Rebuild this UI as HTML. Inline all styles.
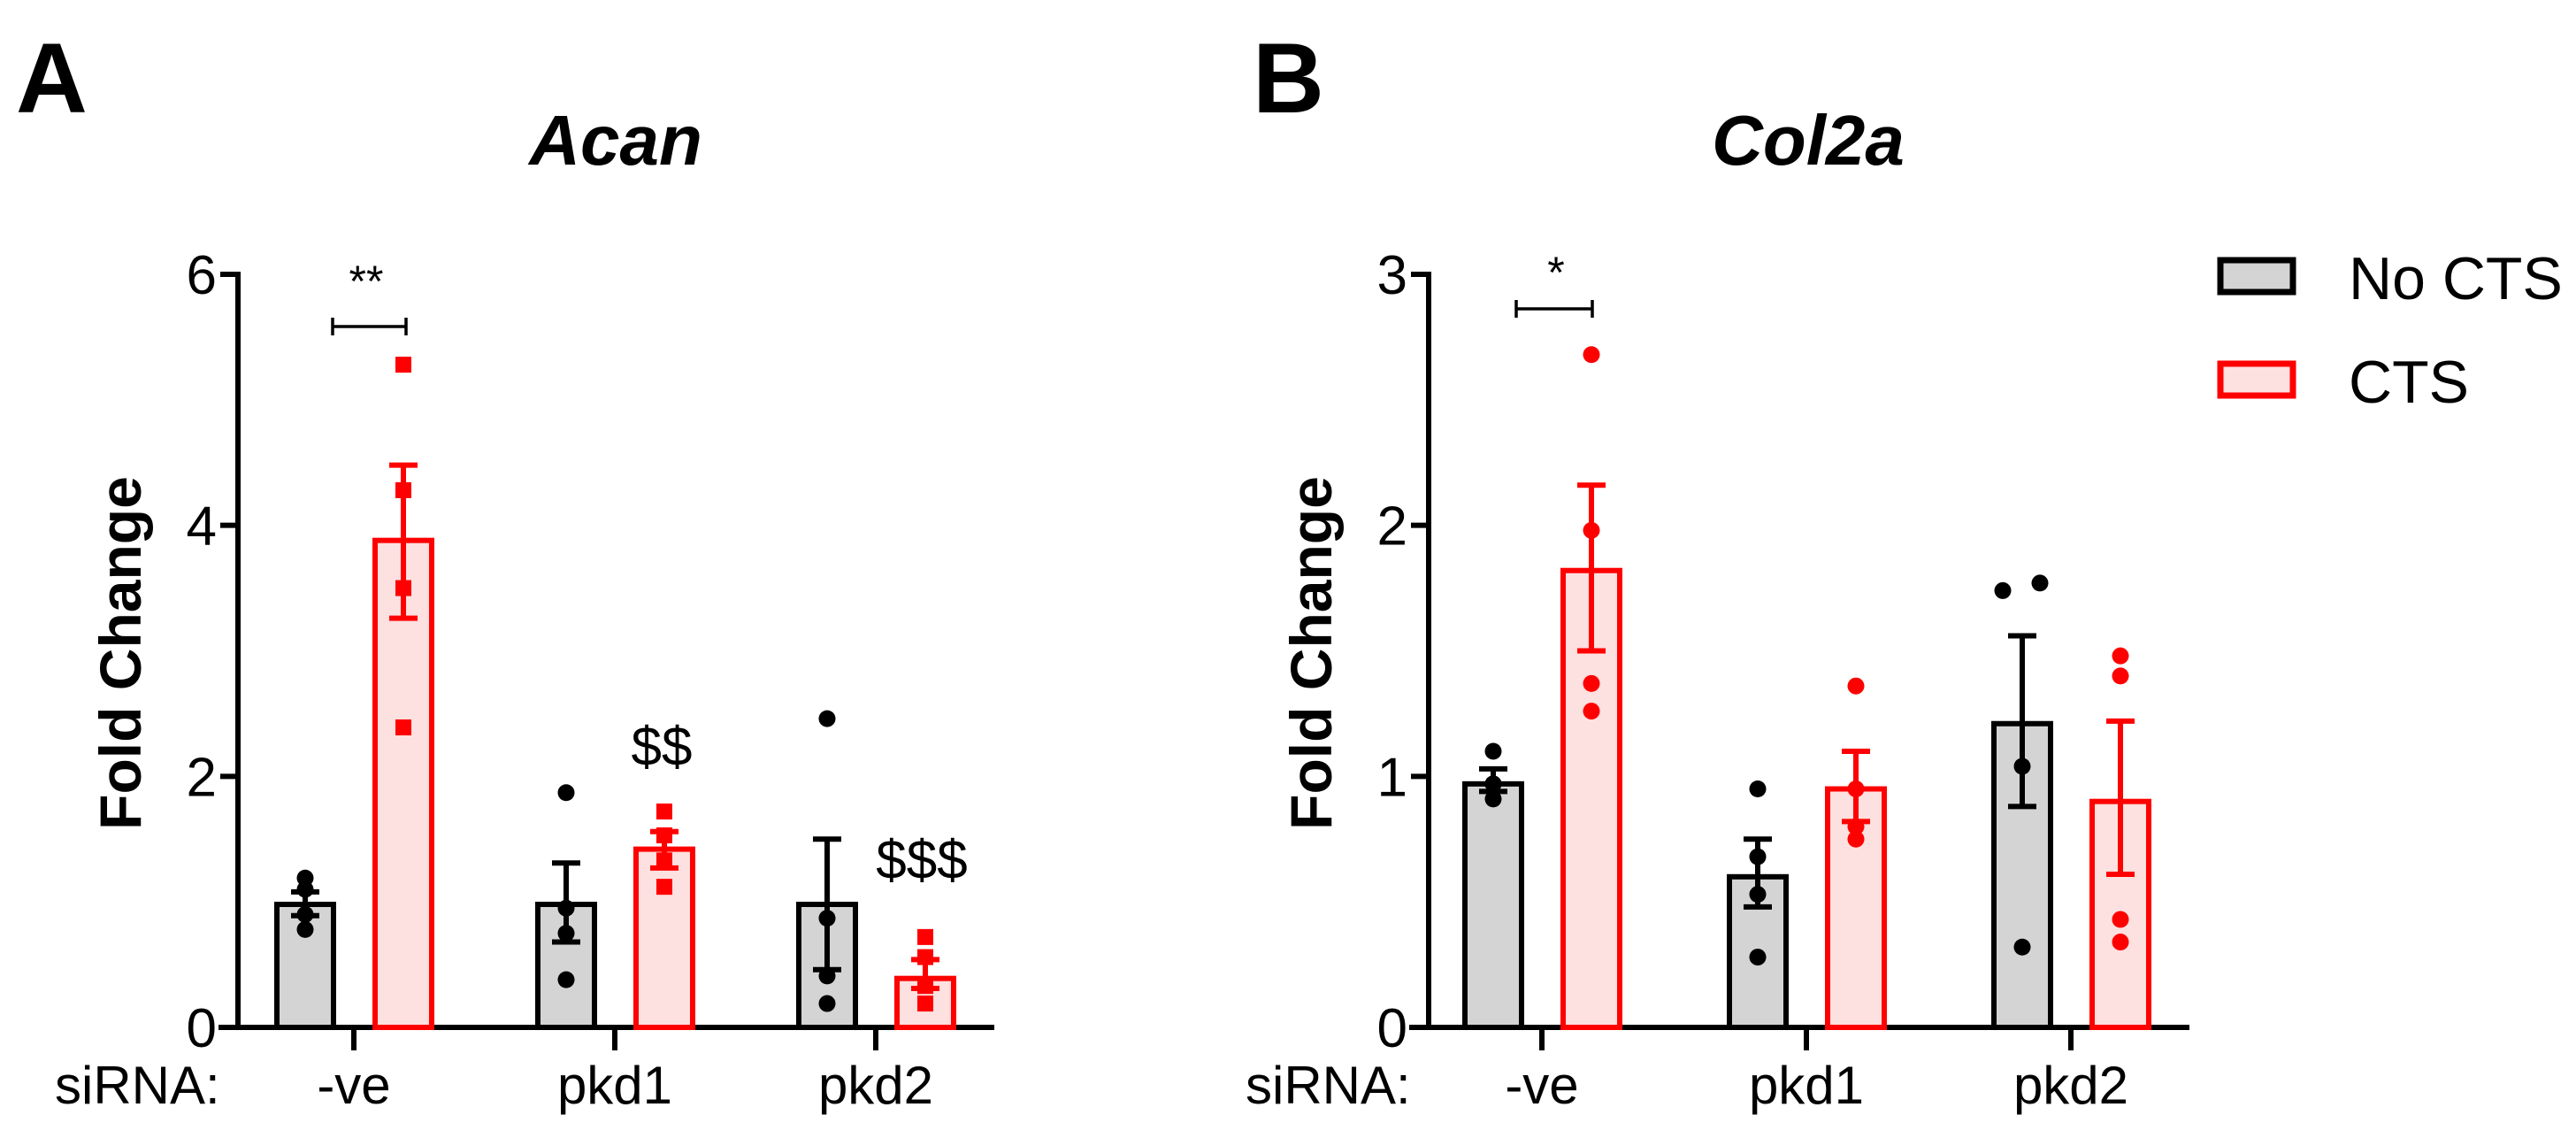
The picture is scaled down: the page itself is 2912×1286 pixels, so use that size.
<!DOCTYPE html>
<html><head><meta charset="utf-8"><style>
html,body{margin:0;padding:0;background:#fff;}
svg{display:block;font-family:"Liberation Sans",Arial,sans-serif;}
</style></head><body>
<svg id="fig" width="2912" height="1286" viewBox="0 0 2912 1286" xmlns="http://www.w3.org/2000/svg"></svg>
<script>
// ---------- data ----------
const categories = ["-ve", "pkd1", "pkd2"];
const seriesNames = ["No CTS", "CTS"];
// Panel A (Acan)
const acanNoCTS = [0.98, 0.98, 0.98];
const acanCTS = [3.88, 1.42, 0.39];
const acanNoCTSErrLo = [0.89, 0.68, 0.46];
const acanNoCTSErrHi = [1.08, 1.31, 1.50];
const acanCTSErrLo = [3.26, 1.27, 0.31];
const acanCTSErrHi = [4.48, 1.56, 0.54];
const acanNoCTSPts = [[1.19, 1.10, 0.90, 0.78], [1.87, 0.95, 0.75, 0.38], [2.46, 0.87, 0.41, 0.19]];
const acanCTSPts = [[5.28, 4.28, 3.50, 2.39], [1.72, 1.53, 1.33, 1.12], [0.72, 0.56, 0.33, 0.19]];
const acanTicks = [0, 2, 4, 6];
// Panel B (Col2a)
const colNoCTS = [0.97, 0.60, 1.21];
const colCTS = [1.82, 0.95, 0.90];
const colNoCTSErrLo = [0.94, 0.48, 0.88];
const colNoCTSErrHi = [1.03, 0.75, 1.56];
const colCTSErrLo = [1.50, 0.82, 0.61];
const colCTSErrHi = [2.16, 1.10, 1.22];
const colNoCTSPts = [[1.10, 0.97, 0.97, 0.91], [0.95, 0.68, 0.53, 0.28], [1.74, 1.77, 1.04, 0.32]];
const colCTSPts = [[2.68, 1.98, 1.37, 1.26], [1.36, 0.95, 0.75, 0.80], [1.48, 1.40, 0.43, 0.34]];
const colTicks = [0, 1, 2, 3];

// ---------- rendering ----------
const NS = "http://www.w3.org/2000/svg";
const svg = document.getElementById("fig");
function mk(tag, attrs, parent, text) {
  const e = document.createElementNS(NS, tag);
  for (const k in attrs) e.setAttribute(k, attrs[k]);
  if (text !== undefined) e.textContent = text;
  (parent || svg).appendChild(e);
  return e;
}
const RED = "#ff0000", REDFILL = "#fde0e0", GRAYFILL = "#d4d4d4";
const jitterA = [[0, 0, 0, 0], [0, 0, 0, 0], [0, 0, 0, 0]];
const jitterB = [[-18, 0, 18, 0], [0, 0, 0, 0], [-22, 20, 0, 0], [0, 0, 0, 0]];

function panel(opt) {
  const g = mk("g", {});
  
  
  const y0 = 1161, yTop = 310;
  const y = v => y0 - (v / opt.ymax) * (y0 - yTop);
  const x = i => opt.tickX0 + i * opt.tickStep;
  const ax = mk("line", {x1: opt.axisX, y1: yTop - 3, x2: opt.axisX, y2: y0 + 3, stroke: "#000", "stroke-width": 6}, g);
  
  
  const xa = mk("line", {x1: opt.axisX - 22, y1: y0, x2: opt.axisEnd, y2: y0, stroke: "#000", "stroke-width": 6}, g);
  
  
  opt.ticks.forEach(t => {
    const ty = y(t);
    const tl = mk("line", {x1: opt.axisX - 20, y1: ty, x2: opt.axisX, y2: ty, stroke: "#000", "stroke-width": 6}, g);
    
    
    const tt = mk("text", {x: opt.axisX - 24, y: ty + 22, "font-size": 62, "text-anchor": "end", fill: "#000"}, g, String(t));
    
    
  });
  const yt = mk("text", {x: 0, y: 0, "font-size": 66, "font-weight": "bold", "text-anchor": "middle",
    transform: `translate(${opt.axisX - 110},738) rotate(-90)`}, g, "Fold Change");
  
  
  const sr = mk("text", {x: opt.axisX - 207, y: 1247, "font-size": 60}, g, "siRNA:");
  
  
  categories.forEach((c, i) => {
    const tk = mk("line", {x1: x(i), y1: y0, x2: x(i), y2: y0 + 26, stroke: "#000", "stroke-width": 6}, g);
    
    
    const cl = mk("text", {x: x(i), y: 1247, "font-size": 60, "text-anchor": "middle"}, g, c);
    
    
  });
  const series = [
    {vals: opt.s0, lo: opt.s0lo, hi: opt.s0hi, pts: opt.s0pts, off: -55, stroke: "#000", fill: GRAYFILL, shape: "circle", key: "no-cts"},
    {vals: opt.s1, lo: opt.s1lo, hi: opt.s1hi, pts: opt.s1pts, off: 56, stroke: RED, fill: REDFILL, shape: opt.redShape, key: "cts"}
  ];
  series.forEach((s, si) => {
    s.vals.forEach((v, i) => {
      const cx = x(i) + s.off, w = 64;
      const b = mk("rect", {x: cx - w / 2, y: y(v), width: w, height: y0 - y(v), fill: s.fill, stroke: s.stroke, "stroke-width": 6}, g);
      
      
      const e = mk("path", {d: `M${cx},${y(s.lo[i])}V${y(s.hi[i])}M${cx - 16},${y(s.hi[i])}H${cx + 16}M${cx - 16},${y(s.lo[i])}H${cx + 16}`,
        stroke: s.stroke, "stroke-width": 6, fill: "none"}, g);
      
      
      s.pts[i].forEach((p, pi) => {
        const jx = (si === 0 && i === 2) ? opt.jitter[2][pi] : 0;
        let m;
        if (s.shape === "square") {
          m = mk("rect", {x: cx - 9 + jx, y: y(p) - 9, width: 18, height: 18, fill: s.stroke}, g);
        } else {
          m = mk("circle", {cx: cx + jx, cy: y(p), r: 9.5, fill: s.stroke}, g);
        }
        
        
      });
    });
  });
  return {g, x, y};
}

const la = mk("text", {x: 18, y: 127, "font-size": 112, "font-weight": "bold"}, svg, "A");


const lb = mk("text", {x: 1416, y: 127, "font-size": 112, "font-weight": "bold"}, svg, "B");


const ta = mk("text", {x: 696, y: 186, "font-size": 80, "font-weight": "bold", "font-style": "italic", "text-anchor": "middle"}, svg, "Acan");


const tb = mk("text", {x: 2044, y: 186, "font-size": 80, "font-weight": "bold", "font-style": "italic", "text-anchor": "middle"}, svg, "Col2a");



const A = panel({name: "acan-chart", axisX: 269, axisEnd: 1124, tickX0: 400, tickStep: 295, ymax: 6, ticks: acanTicks,
  s0: acanNoCTS, s0lo: acanNoCTSErrLo, s0hi: acanNoCTSErrHi, s0pts: acanNoCTSPts,
  s1: acanCTS, s1lo: acanCTSErrLo, s1hi: acanCTSErrHi, s1pts: acanCTSPts, redShape: "square", jitter: jitterA});
const B = panel({name: "col2a-chart", axisX: 1615, axisEnd: 2475, tickX0: 1743, tickStep: 299, ymax: 3, ticks: colTicks,
  s0: colNoCTS, s0lo: colNoCTSErrLo, s0hi: colNoCTSErrHi, s0pts: colNoCTSPts,
  s1: colCTS, s1lo: colCTSErrLo, s1hi: colCTSErrHi, s1pts: colCTSPts, redShape: "circle", jitter: jitterB});

function bracket(x1, x2, yy, label, lx, ly, name) {
  const p = mk("path", {d: `M${x1},${yy - 10}V${yy + 10}M${x1},${yy}H${x2}M${x2},${yy - 10}V${yy + 10}`, stroke: "#000", "stroke-width": 3.5, fill: "none"});
  
  
  const t = mk("text", {x: lx, y: ly, "font-size": 50, "text-anchor": "middle"}, svg, label);
  
  
}
bracket(376, 459, 369, "**", 414, 335, "significance-acan");
bracket(1714, 1800, 349, "*", 1759, 325, "significance-col2a");
const d2 = mk("text", {x: 748, y: 865, "font-size": 62, "text-anchor": "middle"}, svg, "$$");


const d3 = mk("text", {x: 1042, y: 993, "font-size": 62, "text-anchor": "middle"}, svg, "$$$");



const lg = mk("g", {});


const lr1 = mk("rect", {x: 2510, y: 294, width: 82, height: 36, fill: GRAYFILL, stroke: "#000", "stroke-width": 7}, lg);


const lt1 = mk("text", {x: 2655, y: 338, "font-size": 68}, lg, seriesNames[0]);


const lr2 = mk("rect", {x: 2510, y: 411, width: 82, height: 36, fill: REDFILL, stroke: RED, "stroke-width": 7}, lg);


const lt2 = mk("text", {x: 2655, y: 455, "font-size": 68}, lg, seriesNames[1]);


</script>
</body></html>
